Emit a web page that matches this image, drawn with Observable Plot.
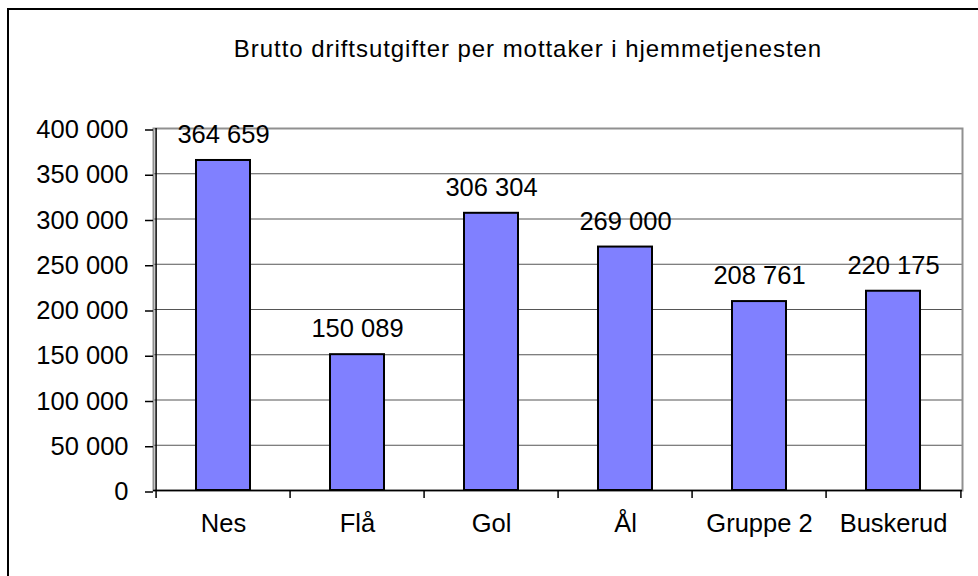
<!DOCTYPE html>
<html>
<head>
<meta charset="utf-8">
<script src="https://cdn.jsdelivr.net/npm/d3@7"></script>
<script src="https://cdn.jsdelivr.net/npm/@observablehq/plot@0.6"></script>
<style>
  html, body { margin: 0; padding: 0; background: #fff; }
  #wrap { position: relative; width: 978px; height: 576px; overflow: hidden; background: #fff; }
  #border { position: absolute; left: 7px; top: 7.5px; width: 1000px; height: 600px;
            border-top: 2px solid #000; border-left: 2px solid #000; box-sizing: border-box; }
  #title { position: absolute; left: 528px; top: 37px; transform: translateX(-50%);
           white-space: nowrap; font-family: "Liberation Sans", Arial, sans-serif;
           font-size: 24px; line-height: 24px; letter-spacing: 0.95px; color: #000; }
  #chart { position: absolute; left: 0; top: 0; }
</style>
</head>
<body>
<div id="wrap">
  <div id="border"></div>
  <div id="chart"></div>
  <div id="title">Brutto driftsutgifter per mottaker i hjemmetjenesten</div>
</div>
<script>
const categories = ["Nes", "Flå", "Gol", "Ål", "Gruppe 2", "Buskerud"];
const values = [364659, 150089, 306304, 269000, 208761, 220175];
const yTicks = [0, 50000, 100000, 150000, 200000, 250000, 300000, 350000, 400000];

const data = categories.map((c, i) => ({category: c, value: values[i]}));
const fmt = d3.formatLocale({decimal: ",", thousands: " ", grouping: [3], currency: ["", ""]}).format(",d");

const W = 978, H = 576, ML = 153, MR = 16, MT = 128, MB = 86;
const step = (W - ML - MR) / categories.length;

const chart = Plot.plot({
  width: W,
  height: H,
  marginLeft: ML,
  marginRight: MR,
  marginTop: MT,
  marginBottom: MB,
  style: {fontFamily: "'Liberation Sans', Arial, sans-serif", fontSize: "25.5px", color: "#000", background: "transparent", overflow: "visible"},
  x: {domain: categories, paddingInner: 0.6, paddingOuter: 0.3, axis: null, label: null},
  y: {domain: [0, 400000], axis: null, label: null},
  marks: [
    Plot.gridY(yTicks, {stroke: "#555", strokeOpacity: 1, strokeWidth: 1}),
    Plot.frame({stroke: "#909090", strokeWidth: 2}),
    Plot.barY(data, {x: "category", y: "value", fill: "#8080FF", stroke: "#000", strokeWidth: 2}),
    Plot.ruleY([0], {stroke: "#000", strokeWidth: 1.5}),
    Plot.ruleX([categories[0]], {x: d => d, y1: 0, y2: 400000, dx: -step / 2, stroke: "#000", strokeWidth: 1.5}),
    Plot.ruleX(categories, {x: d => d, y1: 0, y2: 0, dx: -step / 2, insetBottom: -8, stroke: "#000", strokeWidth: 1.5}),
    Plot.ruleX([categories[categories.length - 1]], {x: d => d, y1: 0, y2: 0, dx: step / 2, insetBottom: -8, stroke: "#000", strokeWidth: 1.5}),
    Plot.axisY(yTicks, {tickSize: 8, tickPadding: 17, tickFormat: fmt, stroke: "#000", strokeWidth: 1.5, dy: 1.5, label: null}),
    Plot.axisX({tickSize: 0, tickPadding: 23, label: null}),
    Plot.text(data, {x: "category", y: "value", text: d => fmt(d.value), lineAnchor: "bottom", dy: -17.5, fill: "#000"})
  ]
});
document.getElementById("chart").appendChild(chart);
</script>
</body>
</html>
